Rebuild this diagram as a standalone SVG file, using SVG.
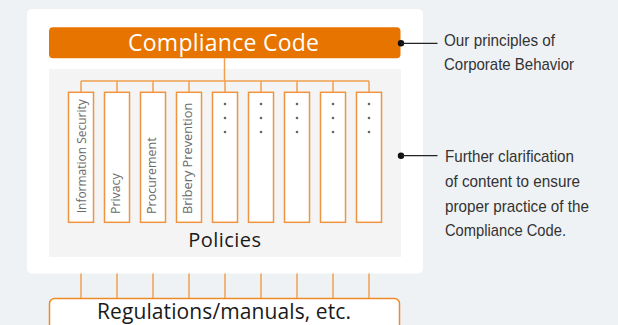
<svg xmlns="http://www.w3.org/2000/svg" width="618" height="325" viewBox="0 0 618 325">
<defs>
<style>
.bg{fill:#eff2f5}
.panel{fill:#ffffff}
.inner{fill:#f4f4f4}
.hdr{fill:#e87400}
.box{fill:#ffffff;stroke:#ef9440;stroke-width:1.5}
.conn{stroke:#f0a050;stroke-width:1.5;fill:none}
.dot{fill:#666666}
.lbl{font-family:"Open Sans","Liberation Sans",sans-serif;font-size:12.5px;fill:#6a6a6a}
.big{font-family:"Open Sans","Liberation Sans",sans-serif;text-anchor:middle}
.call{font-family:"Liberation Sans",Arial,sans-serif;font-size:17px;fill:#333333}
.lead{stroke:#222222;stroke-width:1.2}
</style>
</defs>
<rect class="bg" x="0" y="0" width="618" height="325"/>
<rect class="panel" x="27" y="9" width="396" height="264.5" rx="5"/>
<rect class="inner" x="49" y="69" width="352" height="188"/>

<g id="compliance-code">
<rect class="hdr" x="49" y="27.3" width="351.5" height="31" rx="4"/>
<text class="big" x="223.5" y="50.8" font-size="23" fill="#ffffff" textLength="191">Compliance Code</text>
</g>

<g id="connectors">
<line class="conn" x1="224.5" y1="58" x2="224.5" y2="81"/>
<line class="conn" x1="81" y1="81" x2="369" y2="81"/>
<line class="conn" x1="81" y1="81" x2="81" y2="92"/>
<line class="conn" x1="117" y1="81" x2="117" y2="92"/>
<line class="conn" x1="153" y1="81" x2="153" y2="92"/>
<line class="conn" x1="189" y1="81" x2="189" y2="92"/>
<line class="conn" x1="225" y1="81" x2="225" y2="92"/>
<line class="conn" x1="261" y1="81" x2="261" y2="92"/>
<line class="conn" x1="297" y1="81" x2="297" y2="92"/>
<line class="conn" x1="333" y1="81" x2="333" y2="92"/>
<line class="conn" x1="369" y1="81" x2="369" y2="92"/>
<line class="conn" x1="81" y1="273.5" x2="81" y2="298.5"/>
<line class="conn" x1="117" y1="273.5" x2="117" y2="298.5"/>
<line class="conn" x1="153" y1="273.5" x2="153" y2="298.5"/>
<line class="conn" x1="189" y1="273.5" x2="189" y2="298.5"/>
<line class="conn" x1="225" y1="273.5" x2="225" y2="298.5"/>
<line class="conn" x1="261" y1="273.5" x2="261" y2="298.5"/>
<line class="conn" x1="297" y1="273.5" x2="297" y2="298.5"/>
<line class="conn" x1="333" y1="273.5" x2="333" y2="298.5"/>
<line class="conn" x1="369" y1="273.5" x2="369" y2="298.5"/>
<circle cx="401" cy="43.3" r="3.2" fill="#111"/>
<line class="lead" x1="401" y1="43.3" x2="437.5" y2="43.3"/>
<circle cx="401" cy="155.7" r="3.2" fill="#111"/>
<line class="lead" x1="401" y1="155.7" x2="437.5" y2="155.7"/>
</g>

<g id="policy-information-security">
<rect class="box" x="68.5" y="92.3" width="25" height="130"/>
<text class="lbl" transform="translate(85.5,213.3) rotate(-90)" textLength="114" lengthAdjust="spacingAndGlyphs">Information Security</text>
</g>
<g id="policy-privacy">
<rect class="box" x="104.5" y="92.3" width="25" height="130"/>
<text class="lbl" transform="translate(119.5,214) rotate(-90)" textLength="40.7" lengthAdjust="spacingAndGlyphs">Privacy</text>
</g>
<g id="policy-procurement">
<rect class="box" x="140.5" y="92.3" width="25" height="130"/>
<text class="lbl" transform="translate(155.5,214) rotate(-90)" textLength="76.7" lengthAdjust="spacingAndGlyphs">Procurement</text>
</g>
<g id="policy-bribery-prevention">
<rect class="box" x="176.5" y="92.3" width="25" height="130"/>
<text class="lbl" transform="translate(191.5,214) rotate(-90)" textLength="111.3" lengthAdjust="spacingAndGlyphs">Bribery Prevention</text>
</g>
<g id="policy-5">
<rect class="box" x="212.5" y="92.3" width="25" height="130"/>
<circle class="dot" cx="225" cy="104" r="1.3"/><circle class="dot" cx="225" cy="118" r="1.3"/><circle class="dot" cx="225" cy="132" r="1.3"/>
</g>
<g id="policy-6">
<rect class="box" x="248.5" y="92.3" width="25" height="130"/>
<circle class="dot" cx="261" cy="104" r="1.3"/><circle class="dot" cx="261" cy="118" r="1.3"/><circle class="dot" cx="261" cy="132" r="1.3"/>
</g>
<g id="policy-7">
<rect class="box" x="284.5" y="92.3" width="25" height="130"/>
<circle class="dot" cx="297" cy="104" r="1.3"/><circle class="dot" cx="297" cy="118" r="1.3"/><circle class="dot" cx="297" cy="132" r="1.3"/>
</g>
<g id="policy-8">
<rect class="box" x="320.5" y="92.3" width="25" height="130"/>
<circle class="dot" cx="333" cy="104" r="1.3"/><circle class="dot" cx="333" cy="118" r="1.3"/><circle class="dot" cx="333" cy="132" r="1.3"/>
</g>
<g id="policy-9">
<rect class="box" x="356.5" y="92.3" width="25" height="130"/>
<circle class="dot" cx="369" cy="104" r="1.3"/><circle class="dot" cx="369" cy="118" r="1.3"/><circle class="dot" cx="369" cy="132" r="1.3"/>
</g>

<g id="policies-label">
<text class="big" x="224.7" y="246.7" font-size="20" fill="#1a1a1a" textLength="72.7">Policies</text>
</g>

<g id="regulations">
<rect x="49.5" y="298.5" width="350" height="40" rx="5" fill="#ffffff" stroke="#ee8a2a" stroke-width="1.5"/>
<text class="big" x="224" y="319.3" font-size="21" fill="#1a1a1a" textLength="254">Regulations/manuals, etc.</text>
</g>

<g id="callout-principles">
<text class="call" x="444" y="45.7" textLength="111" lengthAdjust="spacingAndGlyphs">Our principles of</text>
<text class="call" x="444" y="70" textLength="130" lengthAdjust="spacingAndGlyphs">Corporate Behavior</text>
</g>
<g id="callout-clarification">
<text class="call" x="445" y="162.3" textLength="129" lengthAdjust="spacingAndGlyphs">Further clarification</text>
<text class="call" x="445" y="187" textLength="135" lengthAdjust="spacingAndGlyphs">of content to ensure</text>
<text class="call" x="445" y="211.7" textLength="144" lengthAdjust="spacingAndGlyphs">proper practice of the</text>
<text class="call" x="445" y="236" textLength="121" lengthAdjust="spacingAndGlyphs">Compliance Code.</text>
</g>
</svg>
